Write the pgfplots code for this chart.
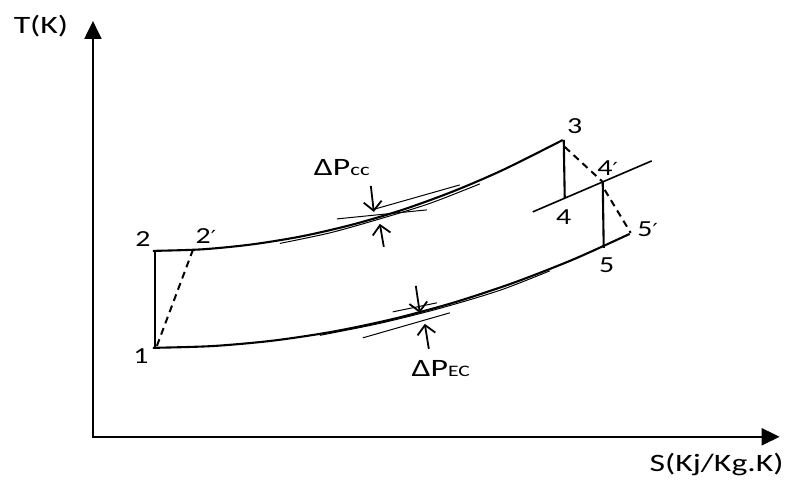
\documentclass[border=0pt]{standalone}
\usepackage{pgfplots}
\pgfplotsset{compat=1.18}
\usetikzlibrary{arrows.meta}
\usepackage{graphicx}
\usepackage{fontspec}
\setmainfont{Carlito}
\newfontfamily\dv{DejaVu Sans}
\newcommand\lab[1]{\scalebox{1.3}[1]{\fontsize{23bp}{26bp}\selectfont #1}}
\newcommand\bigt[1]{\scalebox{1.35}[1]{\fontsize{25bp}{28bp}\selectfont #1}}
\newcommand\pr{{\dv\fontsize{18bp}{20bp}\selectfont ′}}
\begin{document}
\begin{tikzpicture}
\begin{axis}[scale only axis, width=787bp, height=478bp,
  xmin=0, xmax=787, ymin=0, ymax=478, y dir=reverse,
  axis lines=none, clip=false,
  thick/.style={black, line width=2.1bp, no marks},
  thin/.style={black, line width=1bp, no marks},
  darr/.style={black, line width=1.8bp, no marks, -{Straight Barb[length=9bp,width=18bp,line width=1.8bp]}}]
\path[draw=none] (axis cs:0,0) rectangle (axis cs:787,478);
% coordinate axes
\addplot[black, line width=2.1bp, no marks, -{Triangle[width=17bp,length=18bp]}] coordinates {(93,437)(93,21)};
\addplot[black, line width=2.1bp, no marks, -{Triangle[width=17bp,length=18bp]}] coordinates {(92,437)(780,437)};
% upper (combustion) curve 2 -> 3
\addplot[thick, smooth] coordinates {(153,251)(203,249.4)(253,244.4)(303,236.2)(353,224.6)(403,209.8)(453,191.6)(503,170.1)(563,140.1)};
% lower (exhaust) curve 1 -> 5'
\addplot[thick, smooth] coordinates {(153,348)(213,346.2)(273,340.8)(333,331.8)(393,319.2)(453,303)(513,283.2)(573,259.8)(630,234)};
% doubling of main curves
\addplot[thin, smooth] coordinates {(280,243.5)(330,233)(380,219)(430,203.5)(480,184)};
\addplot[thin, smooth] coordinates {(320,335.5)(380,323.5)(440,308.5)(500,290.5)(550,271)};
% vertical lines
\addplot[thick] coordinates {(155,349)(155,250)};
\addplot[thick] coordinates {(564,140)(565,198)};
\addplot[thick] coordinates {(603,182)(604,248)};
% constant pressure line through 4 and 4'
\addplot[black, line width=1.6bp, no marks] coordinates {(533,212)(652,161)};
% dashed real processes
\addplot[black, line width=2bp, no marks, dash pattern=on 7bp off 5bp] coordinates {(157,346)(193,250)};
\addplot[black, line width=2bp, no marks, dash pattern=on 7bp off 5bp] coordinates {(565,147)(603,182)};
\addplot[black, line width=2bp, no marks, dash pattern=on 7bp off 5bp] coordinates {(605,190)(631,233)};
% pressure loss markers (combustion chamber)
\addplot[thin] coordinates {(337,219)(427,210)};
\addplot[thin] coordinates {(372,210)(460,185)};
\addplot[darr] coordinates {(371,186)(374,212)};
\addplot[darr] coordinates {(384,247)(380,224)};
% pressure loss markers (exhaust)
\addplot[thin] coordinates {(393,312)(437,303)};
\addplot[thin] coordinates {(363,338)(450,313)};
\addplot[darr] coordinates {(416,286)(420,313)};
\addplot[darr] coordinates {(429,349)(425,324)};
% labels
\node at (axis cs:41,26) {\bigt{T(K)}};
\node at (axis cs:717,465) {\bigt{S(Kj/Kg.K)}};
\node at (axis cs:342,168) {\bigt{ΔP{\fontsize{17bp}{18bp}\selectfont cc}}};
\node at (axis cs:441,369) {\bigt{ΔP{\fontsize{16bp}{18bp}\selectfont EC}}};
\node at (axis cs:141,356) {\lab{1}};
\node at (axis cs:143,239) {\lab{2}};
\node at (axis cs:206,236) {\lab{2\pr}};
\node at (axis cs:575,126) {\lab{3}};
\node at (axis cs:564,217) {\lab{4}};
\node at (axis cs:608,168) {\lab{4\pr}};
\node at (axis cs:607,265) {\lab{5}};
\node at (axis cs:648,229) {\lab{5\pr}};
\end{axis}
\end{tikzpicture}
\end{document}
